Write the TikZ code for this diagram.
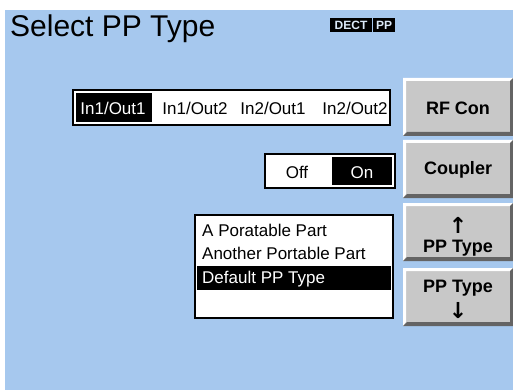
\documentclass[tikz,border=0pt]{standalone}
\usepackage{fontspec}
\setmainfont{Liberation Sans}
\newfontfamily\arrowfont{DejaVu Sans}
\definecolor{screenblue}{RGB}{166,200,238}
\definecolor{keygrey}{RGB}{200,200,200}
\definecolor{keyshadow}{RGB}{100,100,100}

\begin{document}
\begin{tikzpicture}
        [x=1pt,y=-1pt]
            \tikzstyle{every node}=[inner sep=0pt, text=black]
            \tikzstyle{lbl}=[font=\fontsize{17}{19}\selectfont, anchor=base]
            \tikzstyle{keylbl}=[font=\fontsize{18}{20}\selectfont\bfseries, anchor=base]
            \tikzstyle{keyarrow}=[font=\fontsize{22}{24}\selectfont\arrowfont\bfseries]
            \tikzstyle{sel}=[fill=black, draw=none]
            \tikzstyle{field}=[fill=white, draw=black, line width=1.4pt]
        \useasboundingbox (0,0) rectangle (513,390);
        %-----screen
         \fill[white] (0,0) rectangle (513,390);
         \fill[screenblue] (5,10) rectangle (513,390);
         \node[font=\fontsize{30}{32}\selectfont, anchor=base west] (title) at (10,37) {Select PP Type};
         \fill[black] (330,18) rectangle (372,32);
         \fill[black] (373,18) rectangle (395,32);
         \node[font=\fontsize{12}{13}\selectfont\bfseries, text=screenblue!40] (dect) at (351,25) {DECT};
         \node[font=\fontsize{12}{13}\selectfont\bfseries, text=screenblue!40] (pp) at (384,25) {PP};
        %-----RF connector
         \draw[field] (73,90) rectangle (390,125);
         \fill[sel] (76,93) rectangle (152,122);
         \node[lbl, text=white] (io11) at (113,115) {In1/Out1};
         \node[lbl] (io12) at (195,115) {In1/Out2};
         \node[lbl] (io21) at (273,115) {In2/Out1};
         \node[lbl] (io22) at (355,115) {In2/Out2};
        %-----coupler
         \draw[field] (265,154) rectangle (395,188);
         \fill[sel] (332,157) rectangle (392,185);
         \node[lbl] (off) at (297,178) {Off};
         \node[lbl, text=white] (on) at (362,178) {On};
        %-----PP type list
         \draw[field] (195,215) rectangle (393,318);
         \fill[sel] (197,266) rectangle (391,290);
         \node[lbl, anchor=base west] (pp1) at (202,236) {A Poratable Part};
         \node[lbl, anchor=base west] (pp2) at (202,259) {Another Portable Part};
         \node[lbl, anchor=base west, text=white] (pp3) at (202,283) {Default PP Type};
        %-----soft keys
         \foreach \t in {78,140,203,268}
         {
          \fill[keygrey] (403,\t) rectangle (513,\t+58);
          \fill[white] (403,\t) -- (513,\t) -- (510,\t+3) -- (406,\t+3) -- (406,\t+54) -- (403,\t+58) -- cycle;
          \fill[keyshadow] (513,\t) -- (513,\t+58) -- (403,\t+58) -- (407,\t+54) -- (510,\t+54) -- (510,\t+3) -- cycle;
         }
         \node[keylbl] (rfcon) at (458,115) {RF Con};
         \node[keylbl] (coupler) at (458,175) {Coupler};
         \node[keyarrow] (up) at (458,225) {↑};
         \node[keylbl] (pptup) at (458,252) {PP Type};
         \node[keylbl] (pptdown) at (458,292) {PP Type};
         \node[keyarrow] (down) at (458,311) {↓};
        \end{tikzpicture}
\end{document}
